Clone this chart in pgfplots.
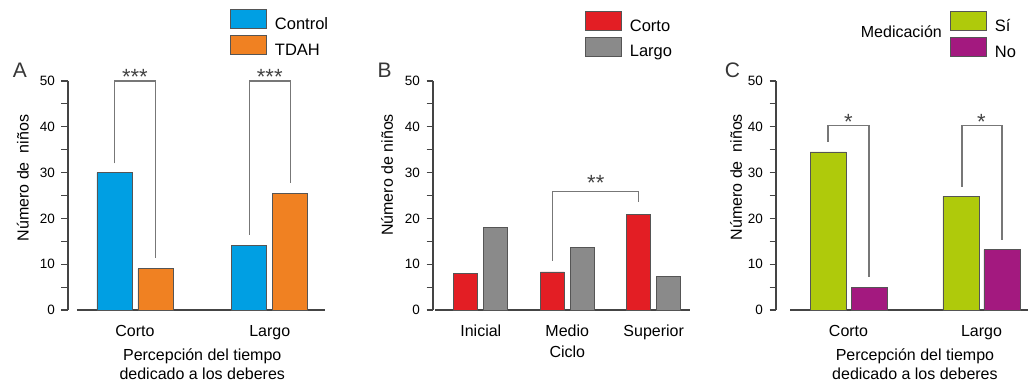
\documentclass[border=0pt]{standalone}
\usepackage{fontspec}
\setmainfont{Liberation Sans}
\usepackage{pgfplots}
\pgfplotsset{compat=1.18}
\definecolor{cblue}{HTML}{009FE3}
\definecolor{corange}{HTML}{F08122}
\definecolor{cred}{HTML}{E31E24}
\definecolor{cgray}{HTML}{8A8A8A}
\definecolor{cgreen}{HTML}{AFCA0B}
\definecolor{cmag}{HTML}{A3197F}
\definecolor{axgray}{HTML}{444444}
\definecolor{edgegray}{HTML}{555555}
\definecolor{brgray}{HTML}{777777}
\tikzset{
  mybar/.style={draw=edgegray, line width=0.9pt},
  mybracket/.style={draw=brgray, line width=1.2pt},
  stars/.style={anchor=base, font=\fontsize{22}{22}\selectfont, text=axgray},
}
\pgfplotsset{
  myax/.style={
    scale only axis, clip=false,
    height=229pt,
    ymin=0, ymax=50,
    axis x line*=bottom, axis y line*=left,
    axis line style={draw=axgray, line width=1.1pt},
    ytick={0,10,...,50}, minor ytick={5,15,...,45},
    tick align=outside,
    major tick length=6.5pt, minor tick length=6.5pt,
    y tick style={draw=axgray, line width=1.1pt},
    minor tick style={draw=axgray, line width=1.1pt},
    x tick style={draw=none},
    xtick=data,
    yticklabel style={font=\fontsize{13.5}{15}\selectfont, xshift=-3pt},
    xticklabel style={font=\fontsize{16}{18}\selectfont, yshift=-5pt},
    /pgf/number format/assume math mode=true,
    label style={font=\fontsize{16}{19}\selectfont},
    ybar,
    legend style={draw=none, fill=none, inner sep=0pt, outer sep=0pt,
      row sep=3.5pt, column sep=8pt, anchor=north west,
      nodes={inner sep=0pt}, font=\fontsize{16.5}{18}\selectfont},
    legend cell align=left,
    legend image code/.code={\draw[##1] (0pt,-4pt) rectangle (36pt,15pt);},
  },
}
\begin{document}
\begin{tikzpicture}[x=1pt,y=1pt]
\useasboundingbox (0,0) rectangle (1030,382);
% ---------------- Panel A
\begin{axis}[myax, at={(77pt,72pt)}, anchor=south west,
  width=248pt, xmin=-0.43, xmax=1.41,
  axis y line shift=9pt,
  xticklabels={Corto,Largo},
  ylabel={Número de\ \ niños},
  ylabel style={at={(axis description cs:-0.218,0.576)}, anchor=center},
  xlabel={Percepción del tiempo\\dedicado a los deberes},
  xlabel style={align=center, at={(axis description cs:0.505,-0.152)}, anchor=north},
  bar width=35pt,
  legend style={at={(axis description cs:0.617,1.314)}},
]
\addplot[mybar, fill=cblue, bar shift=-20.5pt] coordinates {(0,30) (1,14)};
\addplot[mybar, fill=corange, bar shift=20.5pt] coordinates {(0,9) (1,25.5)};
\legend{Control,TDAH}
\draw[mybracket] (axis cs:-0.152,32) -- (axis cs:-0.152,50) -- (axis cs:0.152,50) -- (axis cs:0.152,11.3);
\draw[mybracket] (axis cs:0.848,16.4) -- (axis cs:0.848,50) -- (axis cs:1.152,50) -- (axis cs:1.152,27.8);
\node[stars] at (axis cs:0,49.3) {***};
\node[stars] at (axis cs:1,49.3) {***};
\end{axis}
% ---------------- Panel B
\begin{axis}[myax, at={(435pt,72pt)}, anchor=south west,
  width=255pt, xmin=-0.53, xmax=2.42,
  axis y line shift=2pt,
  xticklabels={Inicial,Medio,Superior},
  ylabel={Número de niños},
  ylabel style={at={(axis description cs:-0.188,0.59)}, anchor=center},
  xlabel={Ciclo},
  xlabel style={at={(axis description cs:0.519,-0.14)}, anchor=north},
  bar width=24pt,
  legend style={at={(axis description cs:0.588,1.305)}},
]
\addplot[mybar, fill=cred, bar shift=-15pt] coordinates {(0,8) (1,8.3) (2,20.8)};
\addplot[mybar, fill=cgray, bar shift=15pt] coordinates {(0,18) (1,13.7) (2,7.3)};
\legend{Corto,Largo}
\draw[mybracket] (axis cs:0.826,10.8) -- (axis cs:0.826,25.8) -- (axis cs:1.826,25.8) -- (axis cs:1.826,23.6);
\node[stars] at (axis cs:1.33,26.2) {**};
\end{axis}
% ---------------- Panel C
\begin{axis}[myax, at={(790pt,72pt)}, anchor=south west,
  width=238pt, xmin=-0.44, xmax=1.35,
  axis y line shift=14pt,
  xticklabels={Corto,Largo},
  ylabel={Número de\ \ niños},
  ylabel style={at={(axis description cs:-0.227,0.58)}, anchor=center},
  xlabel={Percepción del tiempo\\dedicado a los deberes},
  xlabel style={align=center, at={(axis description cs:0.525,-0.152)}, anchor=north},
  bar width=36pt,
  legend style={at={(axis description cs:0.672,1.305)}},
]
\addplot[mybar, fill=cgreen, bar shift=-20.5pt] coordinates {(0,34.5) (1,24.8)};
\addplot[mybar, fill=cmag, bar shift=20.5pt] coordinates {(0,5) (1,13.2)};
\legend{Sí,No}
\draw[mybracket] (axis cs:-0.154,36.7) -- (axis cs:-0.154,40.2) -- (axis cs:0.154,40.2) -- (axis cs:0.154,7.3);
\draw[mybracket] (axis cs:0.853,26.9) -- (axis cs:0.853,40.2) -- (axis cs:1.154,40.2) -- (axis cs:1.154,15.3);
\node[stars] at (axis cs:0,39.4) {*};
\node[stars] at (axis cs:1,39.4) {*};
\end{axis}
% panel letters and legend title
\node[anchor=base, font=\fontsize{21}{21}\selectfont, text=axgray!80!black] at (20,304) {A};
\node[anchor=base, font=\fontsize{21}{21}\selectfont, text=axgray!80!black] at (384.5,304) {B};
\node[anchor=base, font=\fontsize{21}{21}\selectfont, text=axgray!80!black] at (732.5,304) {C};
\node[anchor=base east, inner sep=0pt, font=\fontsize{16}{18}\selectfont] at (942,344) {Medicación};
\end{tikzpicture}
\end{document}
